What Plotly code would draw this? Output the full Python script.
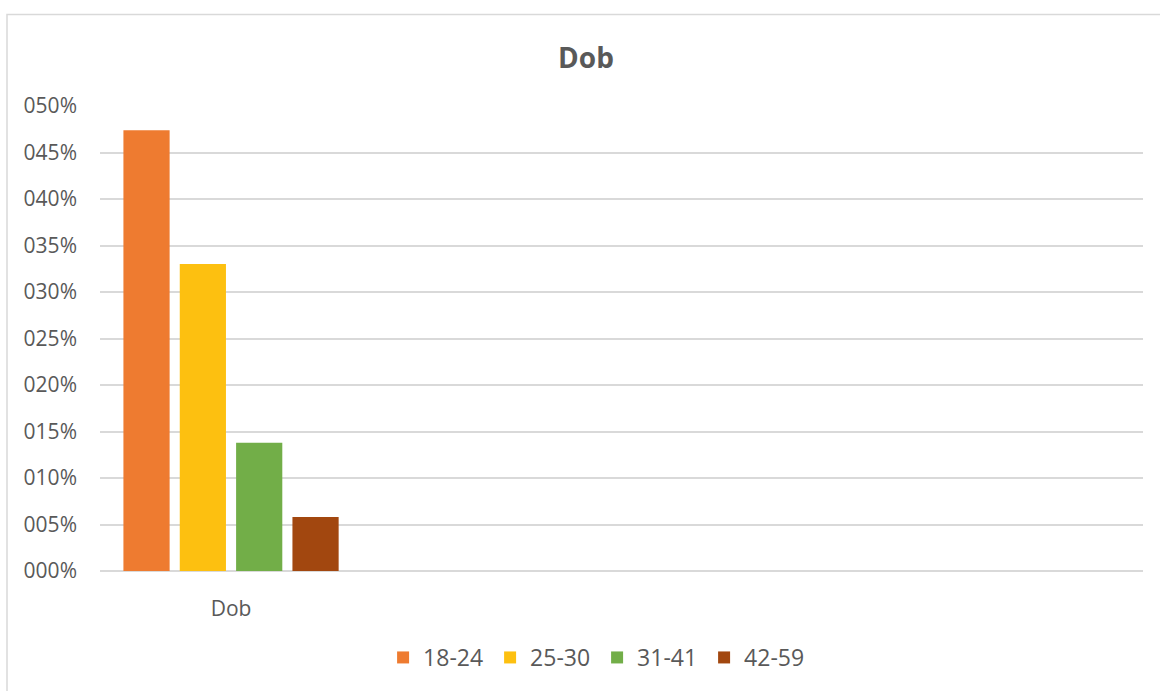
import plotly.graph_objects as go

categories = ["Dob"]
series_names = ["18-24", "25-30", "31-41", "42-59"]
series_values = [[0.474], [0.330], [0.138], [0.058]]
series_colors = ["#EE7B30", "#FDC010", "#72AE48", "#A2470F"]
tick_vals = [0, 0.05, 0.10, 0.15, 0.20, 0.25, 0.30, 0.35, 0.40, 0.45, 0.50]
tick_labels = ["000%", "005%", "010%", "015%", "020%", "025%", "030%", "035%", "040%", "045%", "050%"]

FONT = "Open Sans"
GREY = "#595959"

fig = go.Figure()
for name, vals, col in zip(series_names, series_values, series_colors):
    fig.add_trace(go.Bar(
        x=categories, y=vals, name=name,
        marker=dict(color=col, line=dict(width=0)),
    ))

fig.update_layout(
    width=1160, height=691,
    margin=dict(l=100, r=17, t=106, b=117),
    paper_bgcolor="white", plot_bgcolor="white",
    barmode="group", bargap=0.14, bargroupgap=0.18,
    font=dict(family=FONT, size=21, color=GREY),
    title=dict(text="<b>Dob</b>", x=586/1160, xref="container", xanchor="center",
               y=1 - 58/691, yref="container", yanchor="middle",
               font=dict(family=FONT, size=28, color=GREY)),
    xaxis=dict(type="category", range=[-0.5, 3.48], showgrid=False, showline=False,
               ticks="", tickfont=dict(size=21, color=GREY), zeroline=False,
               ticklabelstandoff=23),
    yaxis=dict(range=[0, 0.5], tickvals=tick_vals, ticktext=tick_labels,
               showgrid=True, gridcolor="#D9D9D9", gridwidth=1.5,
               zeroline=True, zerolinecolor="#D9D9D9", zerolinewidth=1.5,
               showline=False, ticks="", ticklabelstandoff=22,
               tickfont=dict(size=21, color=GREY)),
    legend=dict(orientation="h", x=0.4766, xanchor="center", y=-0.186, yanchor="middle",
                font=dict(size=23, color=GREY), itemwidth=30, traceorder="normal",
                entrywidth=62, entrywidthmode="pixels"),
    showlegend=True,
)

fig.add_shape(type="rect", xref="paper", yref="paper",
              x0=(7-100)/1043, x1=(1170-100)/1043,
              y0=(574-720)/468, y1=(574-14)/468,
              line=dict(color="#D9D9D9", width=1.5), fillcolor="rgba(0,0,0,0)", layer="below")

fig.write_html("out.html", config={"displayModeBar": False},
               post_script="document.body.style.margin='0px';")
